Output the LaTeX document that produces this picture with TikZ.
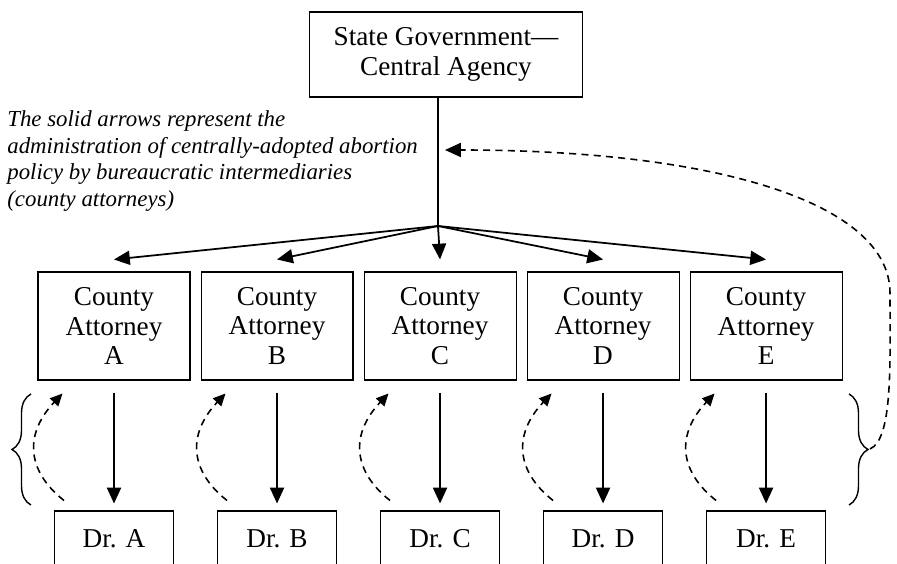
\documentclass[tikz,border=0pt]{standalone}
\usepackage{fontspec}
\setmainfont{Liberation Serif}
\usetikzlibrary{arrows.meta,positioning,calc,decorations.pathreplacing}

\begin{document}
\begin{tikzpicture}[
    x=0.02cm, y=0.02cm,
    >={Triangle[length=9pt,width=8pt]},
    every node/.style={font=\fontsize{15.5}{17}\selectfont},
    agency/.style={rectangle,draw,line width=0.6pt,minimum width=5.46cm,
                   minimum height=1.7cm,align=center},
    office/.style={rectangle,draw,line width=0.6pt,minimum width=3.04cm,
                   minimum height=2.16cm,align=center,inner sep=2pt},
    doctor/.style={rectangle,draw,line width=0.6pt,minimum width=2.38cm,
                   text height=0.42cm,text depth=1cm,inner ysep=0.3cm},
    arr/.style={->,line width=1pt},
    back/.style={->,line width=0.9pt,dash pattern=on 4pt off 3pt,
                 >={Triangle[length=7pt,width=6.5pt]}},
    brace/.style={decorate,decoration={brace,amplitude=0.38cm},line width=0.8pt},
    note/.style={font=\itshape\fontsize{13}{15.3}\selectfont,align=left,inner sep=0pt}
  ]
  \useasboundingbox (0,0) rectangle (897,564);
  \clip (0,0) rectangle (897,564);

  \node[agency] (state) at (446,509.5) {State Government---\\Central Agency};
  \coordinate (hub) at (438,338);

  \node[office] (cA) at (114,238) {County\\Attorney\\A};
  \node[office,right=0.2cm of cA] (cB) {County\\Attorney\\B};
  \node[office,right=0.2cm of cB] (cC) {County\\Attorney\\C};
  \node[office,right=0.2cm of cC] (cD) {County\\Attorney\\D};
  \node[office,right=0.2cm of cD] (cE) {County\\Attorney\\E};

  \node[doctor,below=2.6cm of cA] (dA) {Dr. A};
  \node[doctor,below=2.6cm of cB] (dB) {Dr. B};
  \node[doctor,below=2.6cm of cC] (dC) {Dr. C};
  \node[doctor,below=2.6cm of cD] (dD) {Dr. D};
  \node[doctor,below=2.6cm of cE] (dE) {Dr. E};

  \node[note,anchor=west] (caption) at (7,403)
    {The solid arrows represent the\\administration of centrally-adopted abortion\\
     policy by bureaucratic intermediaries\\(county attorneys)};

  % central agency down to the county attorneys
  \draw[line width=1pt] (state.south -| hub) -- (hub);
  \draw[arr] (hub) -- ([yshift=0.24cm]cA.north);
  \draw[arr] (hub) -- ([yshift=0.24cm]cB.north);
  \draw[arr] (hub) -- ([yshift=0.24cm]cC.north);
  \draw[arr] (hub) -- ([yshift=0.24cm]cD.north);
  \draw[arr] (hub) -- ([yshift=0.24cm]cE.north);

  % county attorneys down to the doctors
  \draw[arr] ([yshift=-0.24cm]cA.south) -- ([yshift=0.14cm]dA.north);
  \draw[arr] ([yshift=-0.24cm]cB.south) -- ([yshift=0.14cm]dB.north);
  \draw[arr] ([yshift=-0.24cm]cC.south) -- ([yshift=0.14cm]dC.north);
  \draw[arr] ([yshift=-0.24cm]cD.south) -- ([yshift=0.14cm]dD.north);
  \draw[arr] ([yshift=-0.24cm]cE.south) -- ([yshift=0.14cm]dE.north);

  % feedback from the doctors
  \draw[back] ($(dA.north west)+(10,10)$) .. controls +(-38,30) and +(-38,-40) .. ($(cA.south west)+(25,-13)$);
  \draw[back] ($(dB.north west)+(10,10)$) .. controls +(-38,30) and +(-38,-40) .. ($(cB.south west)+(25,-13)$);
  \draw[back] ($(dC.north west)+(10,10)$) .. controls +(-38,30) and +(-38,-40) .. ($(cC.south west)+(25,-13)$);
  \draw[back] ($(dD.north west)+(10,10)$) .. controls +(-38,30) and +(-38,-40) .. ($(cD.south west)+(25,-13)$);
  \draw[back] ($(dE.north west)+(10,10)$) .. controls +(-38,30) and +(-38,-40) .. ($(cE.south west)+(25,-13)$);

  \draw[brace] (31,59) -- (31,170);
  \draw[brace] (849,170) -- (849,59);
  \coordinate (braceR) at (870,115);
  \coordinate (ret) at (445,414);
  \draw[back,>={Triangle[length=9pt,width=8pt]}] (braceR)
    .. controls (893,125) and (890,200) .. (890,271)
    .. controls (890,360) and (720,414) .. (ret);
\end{tikzpicture}
\end{document}
